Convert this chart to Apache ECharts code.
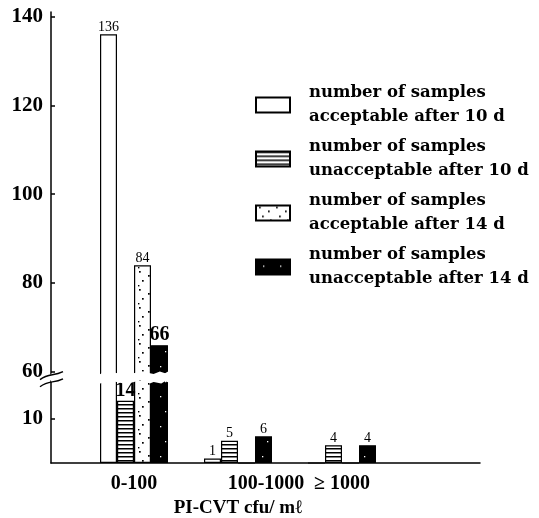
<!DOCTYPE html>
<html>
<head>
<meta charset="utf-8">
<script src="https://cdn.jsdelivr.net/npm/echarts@6.0.0/dist/echarts.min.js"></script>
<style>
  html, body { margin: 0; padding: 0; background: #fff; }
  #chart { width: 539px; height: 518px; }
</style>
</head>
<body>
<div id="chart"></div>
<script>
// categories (PI-CVT cfu/ml) and counts per group
var categories = ['0-100', '100-1000', '\u2265 1000'];
var acceptable10 = [136, 1, 0];
var unacceptable10 = [14, 5, 4];
var acceptable14 = [84, 0, 0];
var unacceptable14 = [66, 6, 4];
var yLabels = [10, 60, 80, 100, 120, 140];
var seriesNames = [
  'number of samples\nacceptable after 10 d',
  'number of samples\nunacceptable after 10 d',
  'number of samples\nacceptable after 14 d',
  'number of samples\nunacceptable after 14 d'
];

(function () {
  var chart = echarts.init(document.getElementById('chart'));
  var serif = '"Liberation Serif", "Times New Roman", serif';
  var wideSerif = '"DejaVu Serif", serif';

  // fill patterns for the bars
  function makePattern(w, h, bg, fg, draw) {
    var c = document.createElement('canvas');
    c.width = w; c.height = h;
    var ctx = c.getContext('2d');
    ctx.fillStyle = bg;
    ctx.fillRect(0, 0, w, h);
    ctx.fillStyle = fg;
    draw(ctx);
    return { image: c, repeat: 'repeat' };
  }
  var hatch = makePattern(8, 4, '#fff', '#000', function (ctx) {
    ctx.fillRect(0, 0, 8, 1.5);
  });
  var dots = makePattern(17, 18, '#fff', '#000', function (ctx) {
    ctx.fillRect(3, 1, 1.7, 1.7);
    ctx.fillRect(12, 5, 1.7, 1.7);
    ctx.fillRect(6, 10, 1.7, 1.7);
    ctx.fillRect(14, 14, 1.7, 1.7);
    ctx.fillRect(2, 15, 1.4, 1.4);
  });
  var specks = makePattern(17, 30, '#000', '#fff', function (ctx) {
    ctx.fillRect(7, 6, 1.3, 1.3);
    ctx.fillRect(12, 21, 1.3, 1.3);
  });

  // y axis with the 18..60 part cut out
  var yBreaks = [{ start: 18.5, end: 59.6, gap: '1.6%' }];
  function yAxisCfg(gridIndex, visible) {
    return {
      type: 'value',
      gridIndex: gridIndex,
      min: 0,
      max: 141,
      breaks: yBreaks,
      breakArea: {
        show: true,
        expandOnClick: false,
        zigzagAmplitude: 2,
        zigzagMinSpan: 6,
        zigzagMaxSpan: 20,
        itemStyle: { color: '#fff', borderWidth: 0, opacity: 1 }
      },
      axisLine: { show: visible, lineStyle: { color: '#000', width: 1.5 } },
      axisTick: { show: visible, inside: true, length: 4, customValues: yLabels, lineStyle: { color: '#000', width: 1.5 } },
      axisLabel: {
        show: visible,
        customValues: yLabels,
        margin: 8,
        color: '#000',
        fontFamily: serif,
        fontWeight: 'bold',
        fontSize: 21
      },
      splitLine: { show: false }
    };
  }

  function barLabel(big) {
    return {
      show: true,
      position: 'top',
      distance: 0,
      color: '#000',
      fontFamily: serif,
      formatter: function (p) {
        if (!p.value) return '';
        return (big && p.dataIndex === 0) ? '{b|' + p.value + '}' : '{s|' + p.value + '}';
      },
      rich: {
        s: { fontSize: 14, fontFamily: serif, color: '#000' },
        b: { fontSize: 20, fontFamily: serif, fontWeight: 'bold', color: '#000' }
      }
    };
  }

  function barSeries(name, data, fill, big) {
    return {
      name: name,
      type: 'bar',
      xAxisIndex: 1,
      yAxisIndex: 1,
      barWidth: 17,
      barGap: '0%',
      data: data,
      itemStyle: { color: fill, borderColor: '#000', borderWidth: 1.2 },
      label: barLabel(big)
    };
  }

  var xLabelFont = { color: '#000', fontFamily: serif, fontWeight: 'bold', fontSize: 20 };

  var option = {
    animation: false,
    backgroundColor: '#fff',
    grid: [
      { left: 51, right: 59, top: 12, bottom: 55, outerBoundsMode: 'none' },
      { left: 82, right: 145, top: 12, bottom: 55, outerBoundsMode: 'none' }
    ],
    legend: {
      orient: 'vertical',
      left: 250,
      top: 76,
      itemWidth: 34,
      itemHeight: 15,
      itemGap: 6,
      icon: 'rect',
      selectedMode: false,
      textStyle: {
        color: '#000',
        fontFamily: wideSerif,
        fontWeight: 'bold',
        fontSize: 16.5,
        lineHeight: 24,
        padding: [0, 0, 0, 14]
      },
      data: seriesNames
    },
    xAxis: [
      {
        // base line across the whole plot
        type: 'value',
        gridIndex: 0,
        min: 0,
        max: 1,
        axisLine: { show: true, onZero: false, lineStyle: { color: '#000', width: 1.5 } },
        axisTick: { show: false },
        axisLabel: { show: false },
        splitLine: { show: false }
      },
      {
        type: 'category',
        gridIndex: 1,
        data: categories,
        name: 'PI-CVT cfu/ m\u2113',
        nameLocation: 'middle',
        nameGap: 31,
        nameTextStyle: { color: '#000', fontFamily: serif, fontWeight: 'bold', fontSize: 19 },
        axisLine: { show: false },
        axisTick: { show: false },
        axisLabel: {
          interval: 0,
          hideOverlap: false,
          margin: 11,
          color: '#000',
          fontFamily: serif,
          fontWeight: 'bold',
          fontSize: 20,
          formatter: function (value, index) {
            return index === 1 ? '{shift|' + value + '}' : '{n|' + value + '}';
          },
          rich: {
            n: xLabelFont,
            shift: Object.assign({ padding: [0, 0, 0, 56] }, xLabelFont)
          }
        },
        splitLine: { show: false }
      }
    ],
    yAxis: [yAxisCfg(0, true), yAxisCfg(1, false)],
    series: [
      barSeries(seriesNames[0], acceptable10, '#fff', false),
      barSeries(seriesNames[1], unacceptable10, hatch, true),
      barSeries(seriesNames[2], acceptable14, dots, false),
      barSeries(seriesNames[3], unacceptable14, specks, true)
    ]
  };

  chart.setOption(option);

  // the "//" marks where the y axis is cut, placed from the axis scale
  function breakMarks() {
    var x = chart.convertToPixel({ xAxisIndex: 0 }, 0);
    var edges = [
      chart.convertToPixel({ yAxisIndex: 0 }, yBreaks[0].end),
      chart.convertToPixel({ yAxisIndex: 0 }, yBreaks[0].start)
    ];
    var marks = [];
    for (var i = 0; i < edges.length; i++) {
      var y = edges[i] + 2;
      marks.push({
        type: 'bezierCurve',
        z: 200,
        shape: {
          x1: x - 11, y1: y + 4,
          cpx1: x - 2, cpy1: y - 3,
          cpx2: x + 2, cpy2: y + 1,
          x2: x + 12, y2: y - 4
        },
        style: { stroke: '#000', lineWidth: 1.4, fill: null }
      });
    }
    chart.setOption({ graphic: marks });
  }
  breakMarks();

  window.addEventListener('resize', function () {
    chart.resize();
    breakMarks();
  });
})();
</script>
</body>
</html>
